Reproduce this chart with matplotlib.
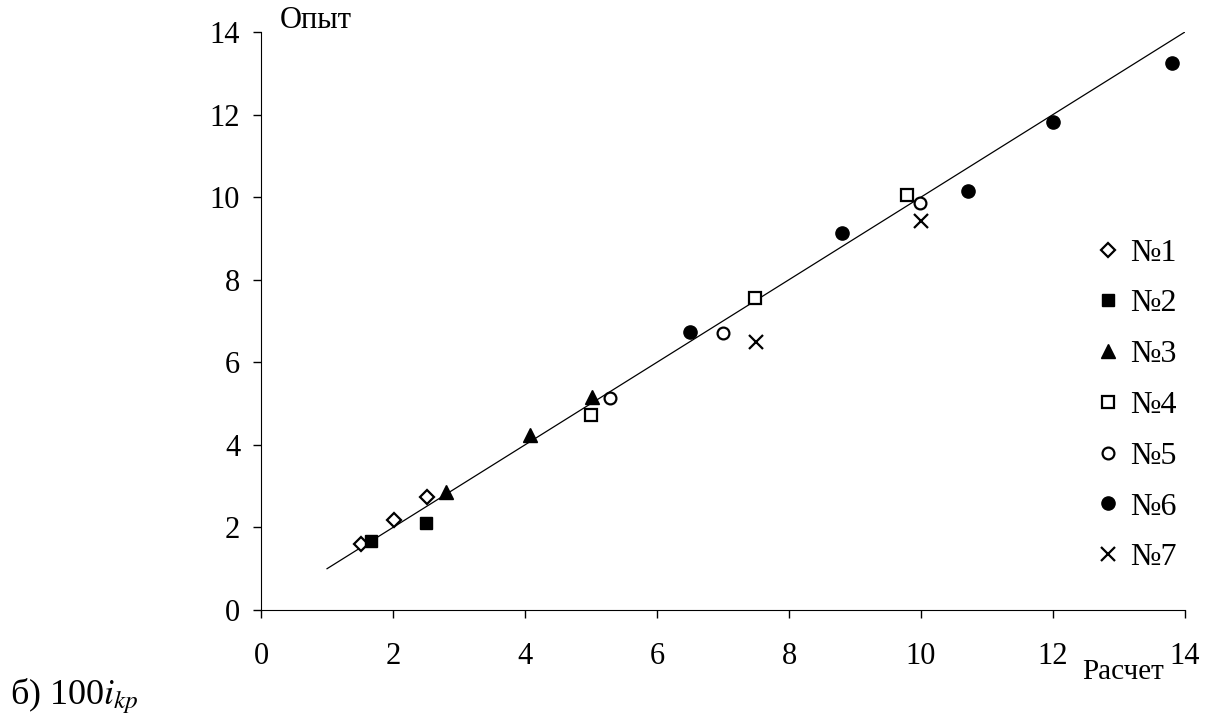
import matplotlib
matplotlib.use("Agg")
import matplotlib.pyplot as plt

plt.rcParams['font.family'] = ['Liberation Serif', 'DejaVu Serif']
plt.rcParams['mathtext.fontset'] = 'stix'

# данные: (расчет, опыт) для каждой серии
x1 = [1.52, 2.02, 2.51]
y1 = [1.60, 2.18, 2.74]
x2 = [1.67, 2.50]
y2 = [1.67, 2.11]
x3 = [2.80, 4.08, 5.02]
y3 = [2.85, 4.24, 5.16]
x4 = [5.00, 7.48, 9.79]
y4 = [4.72, 7.55, 10.05]
x5 = [5.29, 7.00, 9.98]
y5 = [5.13, 6.70, 9.85]
x6 = [6.50, 8.80, 10.71, 12.00, 13.80]
y6 = [6.73, 9.13, 10.14, 11.82, 13.24]
x7 = [7.50, 10.00]
y7 = [6.49, 9.42]
line_x = [1, 14]
line_y = [1, 14]
ticks = [0, 2, 4, 6, 8, 10, 12, 14]

fig = plt.figure(figsize=(12.13, 7.2), dpi=100)
ax = fig.add_axes([0.2152, 0.1528, 0.7617, 0.8028])

ax.plot(line_x, line_y, color='black', lw=0.9)

ax.plot(x1, y1, 'D', ms=7, mfc='white', mec='black', mew=1.6, ls='none', label='№1')
ax.plot(x2, y2, 's', ms=8.5, mfc='black', mec='black', ls='none', label='№2')
ax.plot(x3, y3, '^', ms=10.5, mfc='black', mec='black', ls='none', label='№3')
ax.plot(x4, y4, 's', ms=8.5, mfc='white', mec='black', mew=1.6, ls='none', label='№4')
ax.plot(x5, y5, 'o', ms=8.5, mfc='white', mec='black', mew=1.6, ls='none', label='№5')
ax.plot(x6, y6, 'o', ms=9.5, mfc='black', mec='black', ls='none', label='№6')
ax.plot(x7, y7, 'x', ms=10.5, mec='black', mew=1.6, ls='none', label='№7')

ax.set_xlim(0, 14)
ax.set_ylim(0, 14)
ax.set_xticks(ticks)
ax.set_yticks(ticks)
ax.spines['top'].set_visible(False)
ax.spines['right'].set_visible(False)
ax.tick_params(direction='out', length=6, width=1, labelsize=22)
ax.tick_params(axis='x', pad=17)
ax.tick_params(axis='y', pad=9)

leg = ax.legend(loc='upper left', bbox_to_anchor=(0.899, 0.643), frameon=False,
                fontsize=23, handletextpad=0.2, labelspacing=0.67,
                handlelength=1.0, borderaxespad=0, borderpad=0)

fig.text(0.231, 0.952, 'Опыт', fontsize=22, ha='left', va='bottom')
fig.text(0.892, 0.048, 'Расчет', fontsize=21, ha='left', va='bottom')
fig.text(0.008, 0.006, 'б) 100$i_{kp}$', fontsize=26, ha='left', va='bottom')

fig.savefig('out.png', dpi=100)
